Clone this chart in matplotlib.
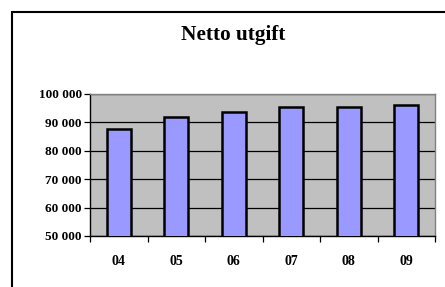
import numpy as np
import matplotlib
matplotlib.use("Agg")
import matplotlib.pyplot as plt
from matplotlib.patches import Rectangle
from matplotlib.ticker import FuncFormatter

years = ["04", "05", "06", "07", "08", "09"]
netto = [87600, 92000, 93600, 95300, 95500, 96200]

W, H = 445, 287
fig = plt.figure(figsize=(W / 100, H / 100), dpi=100)
plt.rcParams['font.family'] = ['Liberation Serif', 'DejaVu Serif']

# outer chart frame (runs off right/bottom edge)
fig.patches.append(Rectangle((11.5 / W, -0.05), 1.2, 1 - 11.5 / H + 0.05,
                             transform=fig.transFigure, fill=False,
                             edgecolor='black', linewidth=1.5))

ax = fig.add_axes([90 / W, 1 - 236 / H, 345 / W, 142 / H])
ax.set_facecolor('#C0C0C0')
x = np.arange(len(years))
ax.bar(x, netto, width=0.42, color='#9999FF', edgecolor='black', linewidth=1.8, zorder=3)
ax.set_ylim(50000, 100000)
ax.set_xlim(-0.5, len(years) - 0.5)
ax.set_yticks(np.arange(50000, 100001, 10000))
ax.yaxis.set_major_formatter(FuncFormatter(lambda v, p: f"{int(v):,}".replace(",", " ")))
ax.grid(axis='y', color='black', linewidth=0.9, zorder=1)
ax.set_axisbelow(True)

ax.set_xticks(np.arange(-0.5, len(years), 1))
ax.set_xticklabels([])
ax.set_xticks(x, minor=True)
ax.set_xticklabels(years, minor=True, fontweight='bold', fontsize=10)
ax.tick_params(axis='x', which='major', length=4, width=0.9, direction='out')
ax.tick_params(axis='x', which='minor', length=0, pad=14)
ax.tick_params(axis='y', length=4, width=0.9, labelsize=9.5, pad=2)
for lab in ax.get_yticklabels():
    lab.set_fontweight('bold')

ax.spines['left'].set_color('black')
ax.spines['bottom'].set_color('black')
ax.spines['top'].set_color('#808080')
ax.spines['right'].set_color('#808080')
for s in ax.spines.values():
    s.set_linewidth(1.0)

fig.text(233.5 / W, 1 - 35 / H, "Netto utgift", ha='center', va='center',
         fontsize=15.3, fontweight='bold')

fig.savefig("out.png", dpi=100)
